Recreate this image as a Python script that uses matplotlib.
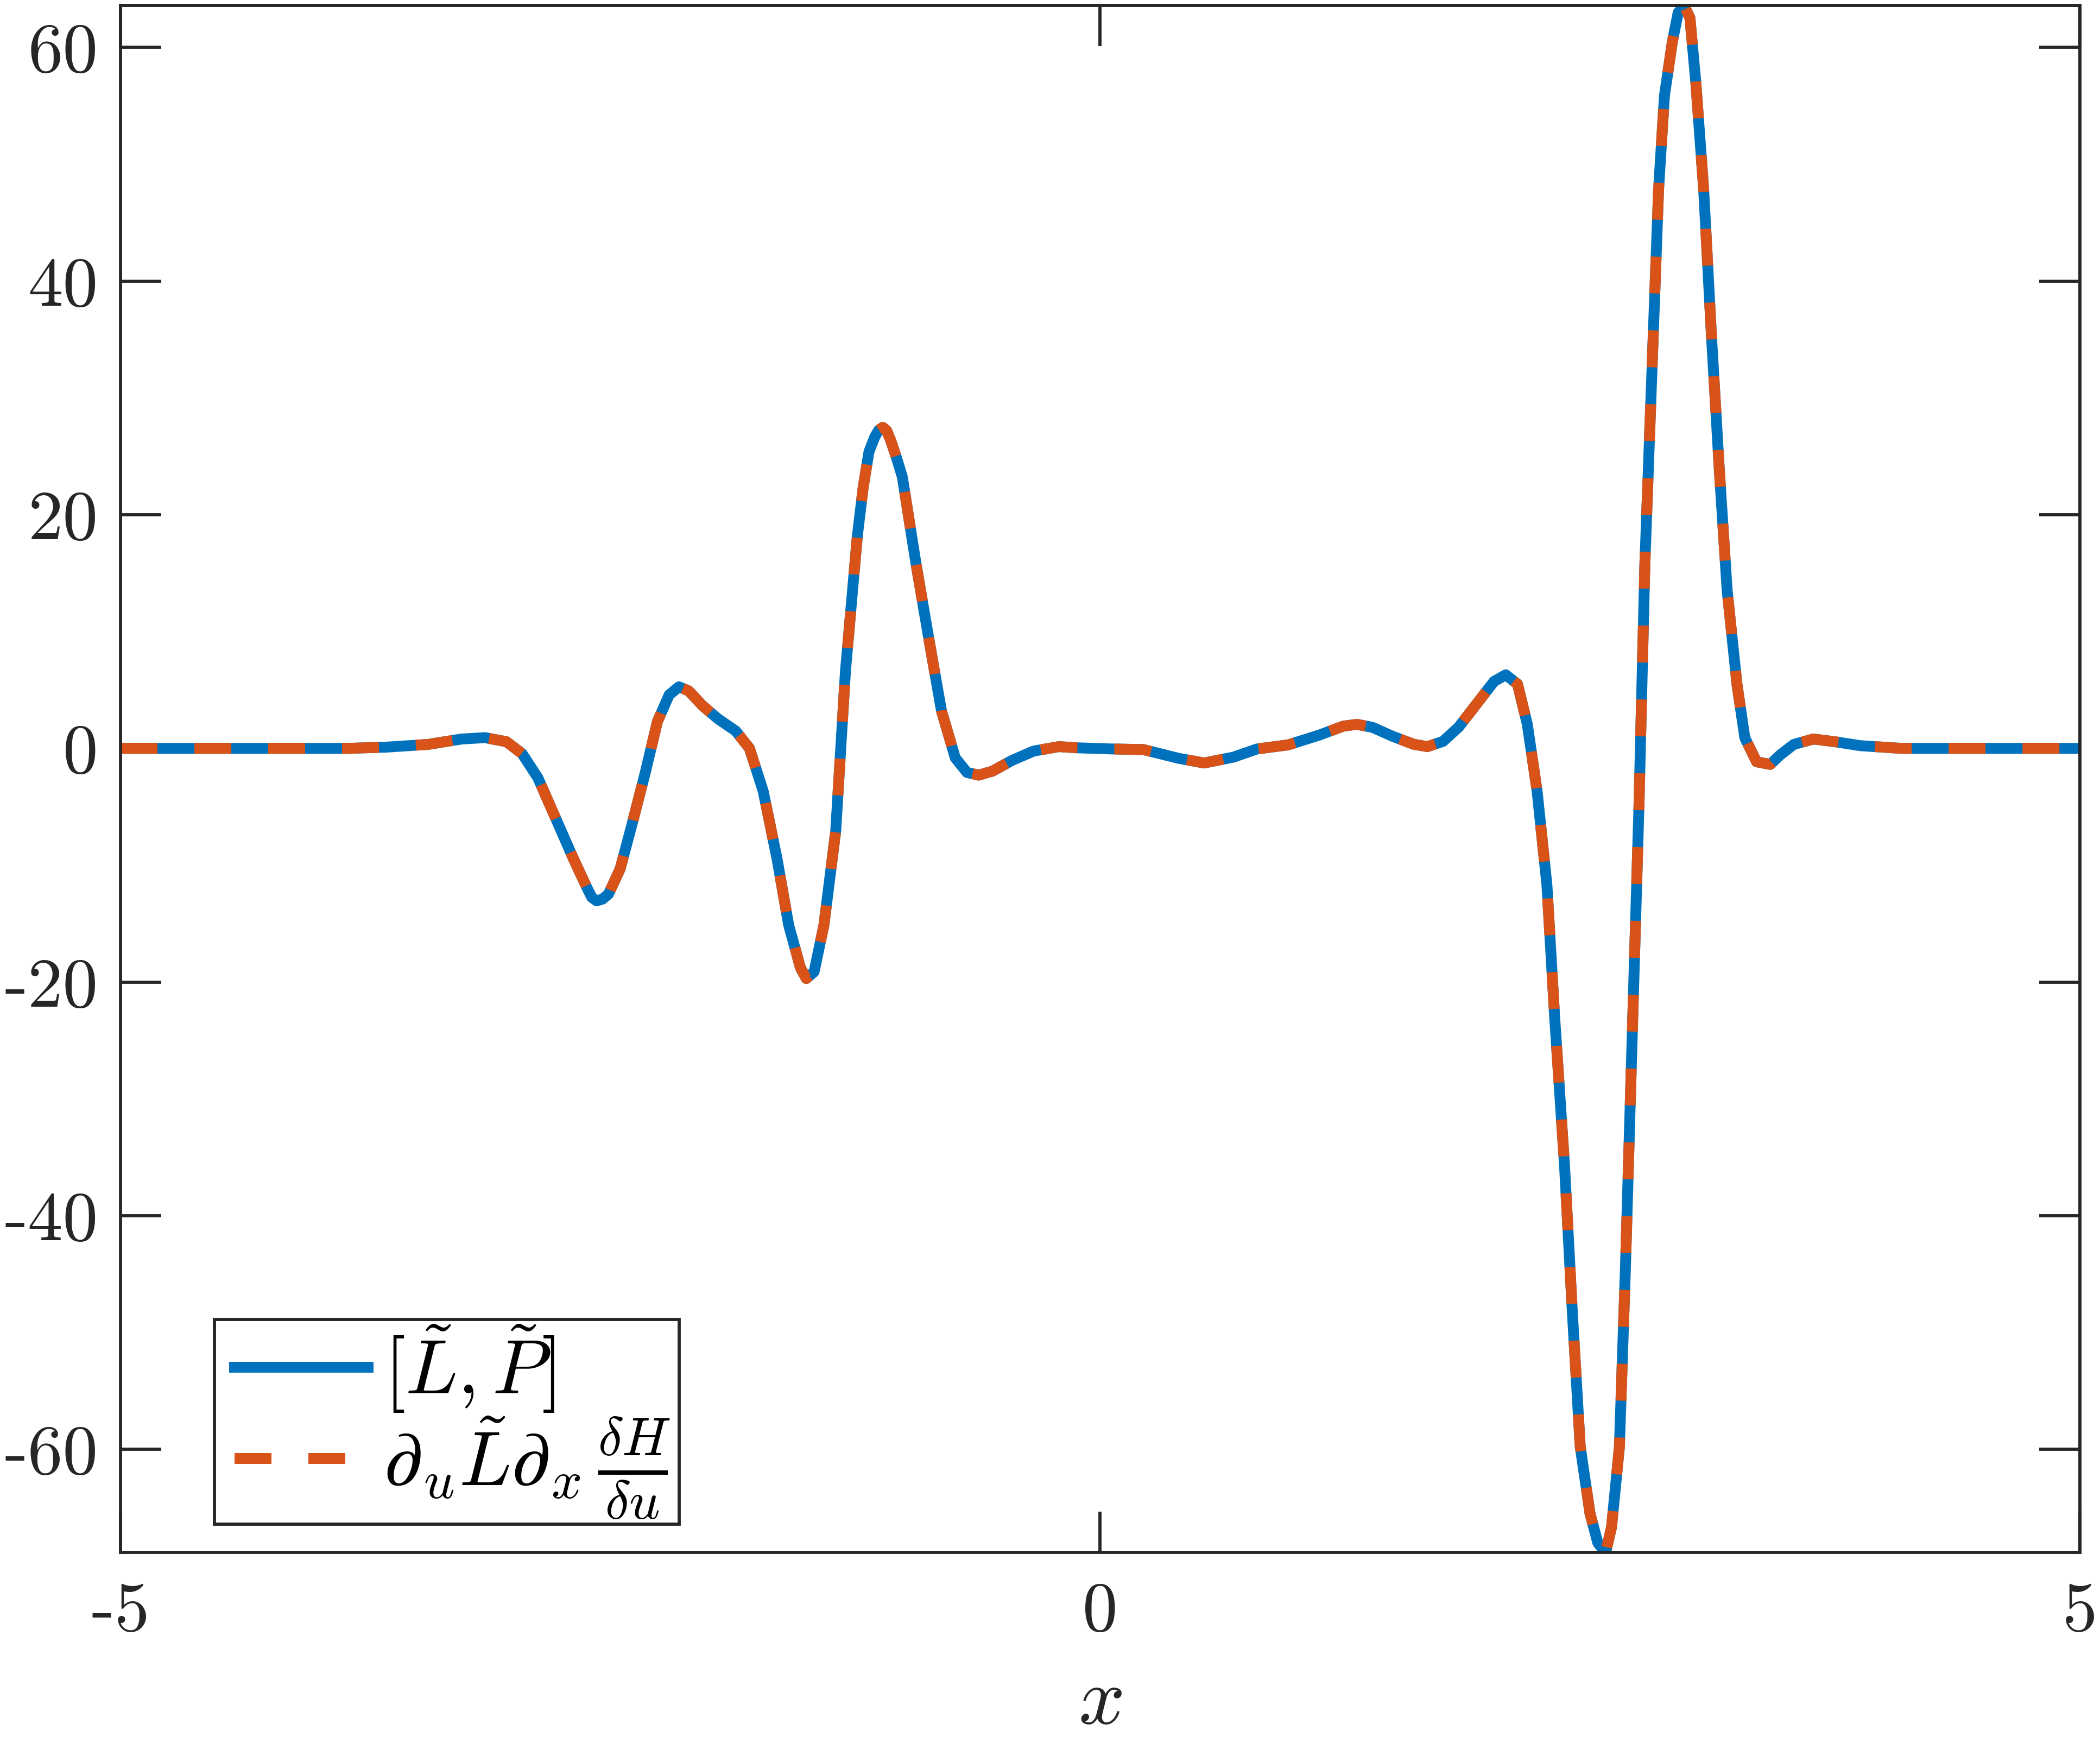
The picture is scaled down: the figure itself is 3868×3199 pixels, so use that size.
import numpy as np
import matplotlib
matplotlib.use("Agg")
import matplotlib.pyplot as plt
from matplotlib.patches import Rectangle

plt.rcParams['font.family'] = 'serif'
plt.rcParams['font.serif'] = ['cmr10']
plt.rcParams['mathtext.fontset'] = 'cm'
plt.rcParams['axes.unicode_minus'] = False

# values
x = np.array([-5.00, -4.25, -3.84, -3.64, -3.43, -3.26, -3.14, -3.03, -2.95, -2.87,
              -2.78, -2.69, -2.62, -2.595, -2.57, -2.54, -2.51, -2.45, -2.39, -2.32,
              -2.26, -2.20, -2.15, -2.10, -2.03, -1.95, -1.86, -1.79, -1.72, -1.65,
              -1.59, -1.53, -1.50, -1.46, -1.41, -1.35, -1.30, -1.24, -1.21, -1.18,
              -1.15, -1.13, -1.11, -1.09, -1.07, -1.04, -1.01, -0.94, -0.87, -0.81,
              -0.74, -0.68, -0.62, -0.55, -0.45, -0.34, -0.21, -0.12, 0.06, 0.22,
              0.40, 0.53, 0.68, 0.80, 0.96, 1.12, 1.24, 1.31, 1.39, 1.49,
              1.60, 1.67, 1.75, 1.83, 1.92, 2.01, 2.07, 2.13, 2.18, 2.23,
              2.28, 2.32, 2.37, 2.41, 2.45, 2.50, 2.54, 2.58, 2.61, 2.65,
              2.68, 2.71, 2.75, 2.78, 2.82, 2.85, 2.88, 2.92, 2.95, 2.98,
              3.01, 3.04, 3.08, 3.12, 3.16, 3.20, 3.25, 3.29, 3.35, 3.42,
              3.47, 3.54, 3.64, 3.75, 3.88, 4.09, 5.00])

lp = np.array([0.00, 0.00, 0.00, 0.11, 0.34, 0.80, 0.92, 0.57, -0.46, -2.52,
               -5.95, -9.39, -11.91, -12.75, -13.05, -12.90, -12.48, -10.31, -6.53, -1.95,
               2.29, 4.58, 5.27, 4.92, 3.66, 2.52, 1.49, 0.00, -3.66, -9.39,
               -15.12, -18.78, -19.70, -19.12, -15.12, -7.10, 6.64, 18.09, 22.30, 25.40,
               26.68, 27.25, 27.48, 27.20, 26.40, 24.90, 23.25, 15.80, 8.93, 3.21,
               -0.80, -2.06, -2.29, -1.95, -1.03, -0.23, 0.15, 0.05, -0.05, -0.10,
               -0.85, -1.25, -0.75, -0.05, 0.30, 1.15, 1.90, 2.06, 1.80, 1.05,
               0.35, 0.15, 0.60, 1.83, 3.78, 5.73, 6.30, 5.50, 2.06, -3.66,
               -11.68, -23.13, -35.73, -48.32, -59.77, -65.50, -68.02, -68.82, -66.64, -59.77,
               -44.89, -27.71, -4.81, 15.80, 34.12, 47.86, 55.88, 60.46, 62.98, 63.60,
               62.52, 57.02, 47.86, 35.27, 23.82, 13.51, 5.50, 0.92, -1.15, -1.37,
               -0.57, 0.34, 0.80, 0.57, 0.23, 0.00, 0.00])

rhs = lp.copy()  # second series lies on top of the first

xticks = [-5, 0, 5]
xticklabels = ['-5', '0', '5']
yticks = [-60, -40, -20, 0, 20, 40, 60]
yticklabels = ['-60', '-40', '-20', '0', '20', '40', '60']

blue = '#0072BD'
orange = '#D95319'
axcol = '#262626'

fig = plt.figure(figsize=(3868 / 300, 3199 / 300), dpi=300)
ax = fig.add_axes([0.0574, 0.1063, 0.9330, 0.8906])

ax.plot(x, lp, color=blue, lw=4.8, label=r'$[\tilde{L},\tilde{P}]$')
ax.plot(x, rhs, color=orange, lw=4.8, dashes=(3.4, 3.4),
        label=r'$\partial_u\tilde{L}\partial_x\,\frac{\delta H}{\delta u}$')

ax.set_xlim(-5, 5)
ax.set_ylim(lp.min(), lp.max())
ax.set_xticks(xticks)
ax.set_xticklabels(xticklabels)
ax.set_yticks(yticks)
ax.set_yticklabels(yticklabels)

for s in ax.spines.values():
    s.set_linewidth(1.4)
    s.set_color(axcol)
ax.tick_params(direction='in', length=18, width=1.4, color=axcol,
               top=True, right=True, labelsize=31, labelcolor=axcol)
ax.tick_params(axis='y', pad=10)
ax.tick_params(axis='x', pad=13)

ax.set_xlabel(r'$x$', fontsize=36, color=axcol, labelpad=10)

# legend box drawn separately so the side padding can differ from the top/bottom
ax.add_patch(Rectangle((0.0478, 0.0182), 0.2372, 0.1324, transform=ax.transAxes,
                       facecolor='white', edgecolor=axcol, lw=1.4, zorder=4.5))
leg = ax.legend(loc='lower left', bbox_to_anchor=(0.0562, 0.018), borderaxespad=0,
                fontsize=34, frameon=False,
                handlelength=1.74, handletextpad=0.2, borderpad=0.05, labelspacing=0.0)

fig.savefig('out.png', dpi=300)
